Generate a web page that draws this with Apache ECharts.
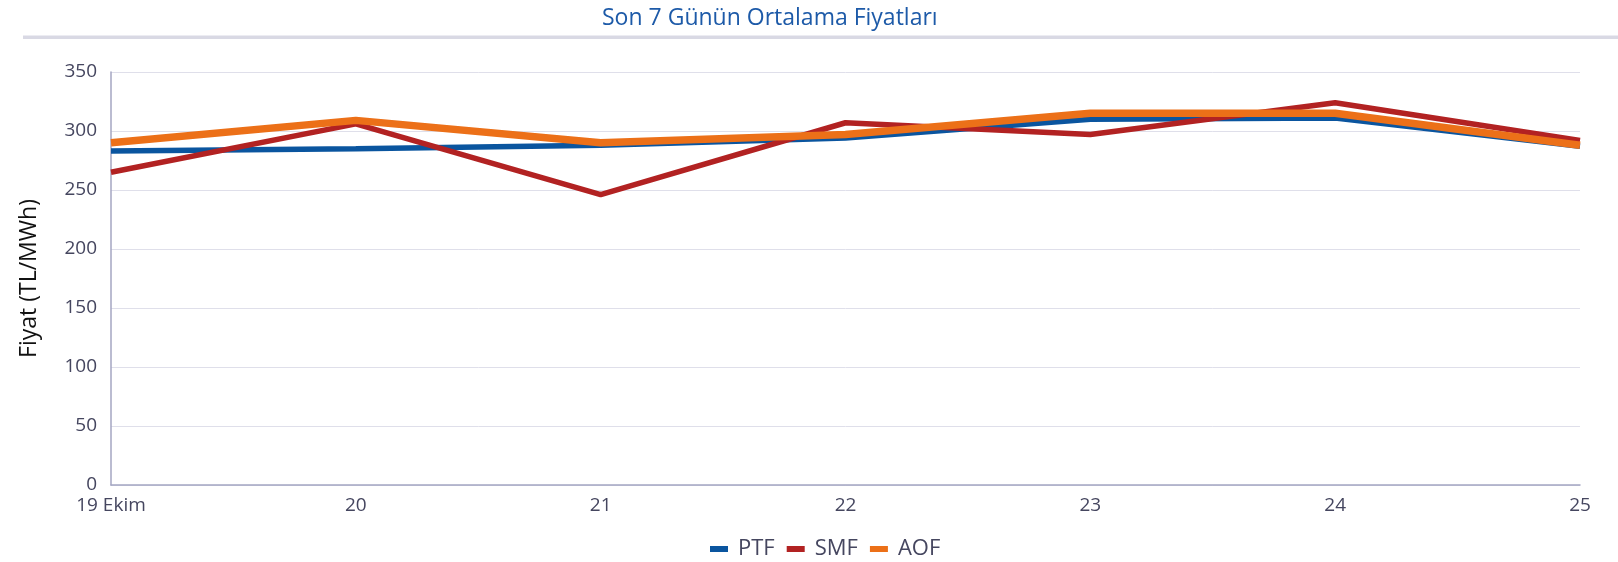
<!DOCTYPE html>
<html>
<head>
<meta charset="utf-8">
<script src="https://cdn.jsdelivr.net/npm/echarts@6/dist/echarts.min.js"></script>
<style>
	html, body { margin: 0; padding: 0; background: #fff; }
	#chart { width: 1618px; height: 562px; }
</style>
</head>
<body>
<div id="chart"></div>
<script>
	// gunler ve ortalama fiyatlar
	var days = ['19 Ekim', '20', '21', '22', '23', '24', '25'];
	var ptf = [283, 285, 288, 294, 310, 311, 287];
	var smf = [265, 306, 246, 307, 297, 324, 292];
	var aof = [290, 309, 290, 297, 315, 315, 288];
	var yTicks = [0, 50, 100, 150, 200, 250, 300, 350];

	var chart = echarts.init(document.getElementById('chart'));
	var labelColor = '#45465f';
	var font = 'Open Sans';

	var option = {
		animation: false,
		title: {
			text: 'Son 7 Günün Ortalama Fiyatları',
			left: 597,
			top: 2,
			textStyle: {
				color: '#1d5aa8',
				fontFamily: font,
				fontWeight: 'normal',
				fontSize: 23
			}
		},
		graphic: [{
			type: 'rect',
			left: 23,
			top: 36,
			shape: { width: 1595, height: 3 },
			style: { fill: '#d9d9e4' }
		}, {
			type: 'rect',
			left: 23,
			top: 35,
			shape: { width: 1595, height: 1 },
			style: { fill: '#ececf2' }
		}],
		legend: {
			top: 533,
			left: 705,
			icon: 'rect',
			itemWidth: 18,
			itemHeight: 6,
			itemGap: 12,
			textStyle: { color: labelColor, fontSize: 22, fontFamily: font, padding: [0, 0, 0, 5] },
			data: ['PTF', 'SMF', 'AOF']
		},
		grid: {
			left: 111,
			right: 38,
			top: 72,
			bottom: 77
		},
		xAxis: {
			type: 'category',
			boundaryGap: false,
			data: days,
			axisLine: { lineStyle: { color: '#a4a6c2', width: 1.5 } },
			axisTick: { show: false },
			axisLabel: { color: labelColor, fontSize: 19, fontFamily: font, margin: 11 },
			splitLine: { show: false }
		},
		yAxis: {
			type: 'value',
			min: yTicks[0],
			max: yTicks[yTicks.length - 1],
			interval: 50,
			name: 'Fiyat (TL/MWh)',
			nameLocation: 'middle',
			nameGap: 70,
			nameTextStyle: { color: '#111', fontSize: 23, fontFamily: font },
			axisLine: { show: true, lineStyle: { color: '#a4a6c2', width: 1.5 } },
			axisTick: { show: false },
			axisLabel: { color: labelColor, fontSize: 19, fontFamily: font, margin: 14 },
			splitLine: { lineStyle: { color: '#dfdfea', width: 1 } }
		},
		series: [{
			name: 'PTF',
			type: 'line',
			data: ptf,
			symbol: 'none',
			itemStyle: { color: '#0a559f' },
			lineStyle: { color: '#0a559f', width: 5.5 }
		}, {
			name: 'SMF',
			type: 'line',
			data: smf,
			symbol: 'none',
			itemStyle: { color: '#b22222' },
			lineStyle: { color: '#b22222', width: 5.5 }
		}, {
			name: 'AOF',
			type: 'line',
			data: aof,
			symbol: 'none',
			itemStyle: { color: '#ec7018' },
			lineStyle: { color: '#ec7018', width: 7.5 }
		}]
	};
	chart.setOption(option);
</script>
</body>
</html>
